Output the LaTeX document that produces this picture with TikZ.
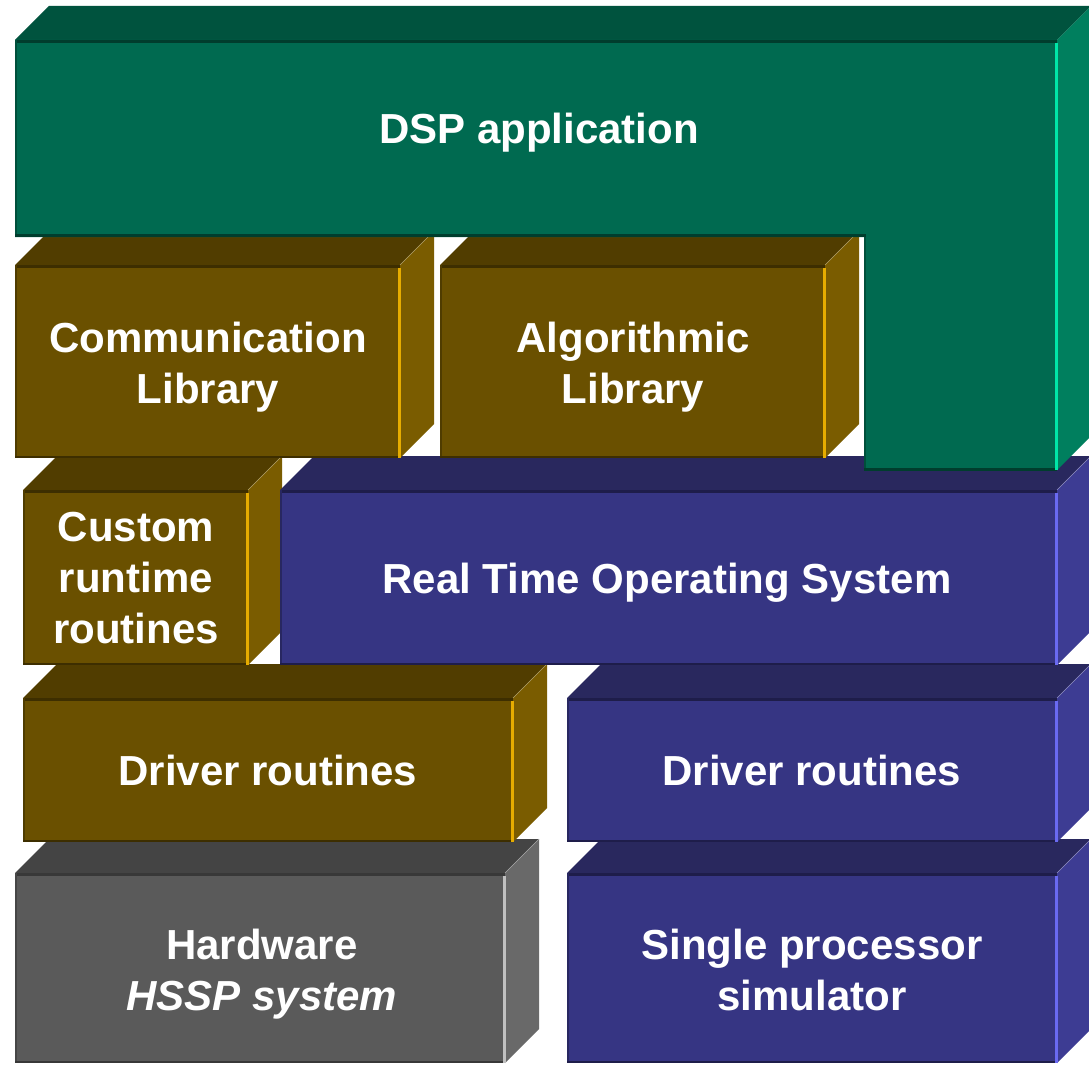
\documentclass[tikz,border=0pt]{standalone}
\usepackage{fontspec}
\setmainfont{Liberation Sans}
\definecolor{gFront}{HTML}{006A50}
\definecolor{gTop}{HTML}{00533E}
\definecolor{gSide}{HTML}{007F5E}
\definecolor{gHi}{HTML}{00E6A8}
\definecolor{gDark}{HTML}{003D2D}
\definecolor{bFront}{HTML}{6A5000}
\definecolor{bTop}{HTML}{513D00}
\definecolor{bSide}{HTML}{7A5C00}
\definecolor{bHi}{HTML}{E6AC00}
\definecolor{bDark}{HTML}{3D2E00}
\definecolor{uFront}{HTML}{363583}
\definecolor{uTop}{HTML}{29285E}
\definecolor{uSide}{HTML}{3D3C93}
\definecolor{uHi}{HTML}{6A6AF2}
\definecolor{uDark}{HTML}{1E1D4A}
\definecolor{kFront}{HTML}{5A5A5A}
\definecolor{kTop}{HTML}{444444}
\definecolor{kSide}{HTML}{696969}
\definecolor{kHi}{HTML}{C0C0C0}
\definecolor{kDark}{HTML}{383838}
\tikzset{
  lbl/.style={font=\fontsize{42}{51}\selectfont\bfseries, text=white, inner sep=0pt, align=center, anchor=north},
}
% x1 y1 x2 y2 colour-prefix ; y grows downward
\newcommand\slab[5]{%
  \fill[#5Top] (#1,#2) -- ({#1+34},{#2-34}) -- ({#3+34},{#2-34}) -- (#3,#2) -- cycle;
  \fill[#5Side] (#3,#2) -- ({#3+34},{#2-34}) -- ({#3+34},{#4-34}) -- (#3,#4) -- cycle;
  \draw[#5Side!60!white, line width=0.5pt] (#3,#2) -- ({#3+34},{#2-34});
  \fill[#5Front] (#1,#2) rectangle (#3,#4);
  \fill[#5Dark] (#1,#2) rectangle (#3,{#2+3});
  \fill[#5Dark!60!#5Front] (#1,#2) rectangle ({#1+2},#4);
  \fill[#5Dark] (#1,{#4-2}) rectangle (#3,#4);
  \fill[#5Hi] ({#3-2},{#2+3}) rectangle ({#3+1},#4);
}
\begin{document}
\begin{tikzpicture}[x=1pt,y=-1pt]
\useasboundingbox (0,0) rectangle (1089,1065);
\fill[white] (0,0) rectangle (1089,1065);
\begin{scope}
\clip (0,0) rectangle (1089,1065);
% bottom row
\slab{15}{873}{505}{1063}{k}
\slab{567}{873}{1057}{1063}{u}
% drivers
\slab{23}{698}{513}{842}{b}
\slab{567}{698}{1057}{842}{u}
% runtime / RTOS
\slab{23}{490}{248}{665}{b}
\slab{280}{490}{1057}{665}{u}
% libraries
\slab{15}{265}{400}{458}{b}
\slab{440}{265}{825}{458}{b}
% DSP application (L shape)
\fill[gTop] (15,40) -- (49,6) -- (1091,6) -- (1057,40) -- cycle;
\fill[gSide] (1057,40) -- (1091,6) -- (1091,436) -- (1057,470) -- cycle;
\fill[gFront] (15,40) -- (1057,40) -- (1057,470) -- (864,470) -- (864,237) -- (15,237) -- cycle;
\fill[gDark] (15,40) rectangle (1057,43);
\fill[gDark!60!gFront] (15,40) rectangle (17,237);
\fill[gDark] (15,234) rectangle (866,237);
\fill[gDark!60!gFront] (864,237) rectangle (866,470);
\fill[gDark] (864,468) rectangle (1057,471);
\fill[gHi] (1055,43) rectangle (1058,470);
\end{scope}
% labels
\node[lbl] (dsp) at (539,113) {DSP application};
\node[lbl] (comm) at (208,322) {Communication\\Library};
\node[lbl] (algo) at (633,322) {Algorithmic\\Library};
\node[lbl] (custom) at (136,512) {Custom\\runtime\hspace*{0.3em}\\routines};
\node[lbl] (rtos) at (667,563) {Real Time Operating System};
\node[lbl] (drvb) at (268,755) {Driver routines};
\node[lbl] (drvu) at (812,755) {Driver routines};
\node[lbl] (hw) at (262,929) {Hardware\\\itshape HSSP system};
\node[lbl] (sim) at (812,929) {Single processor\\simulator};
\end{tikzpicture}
\end{document}
